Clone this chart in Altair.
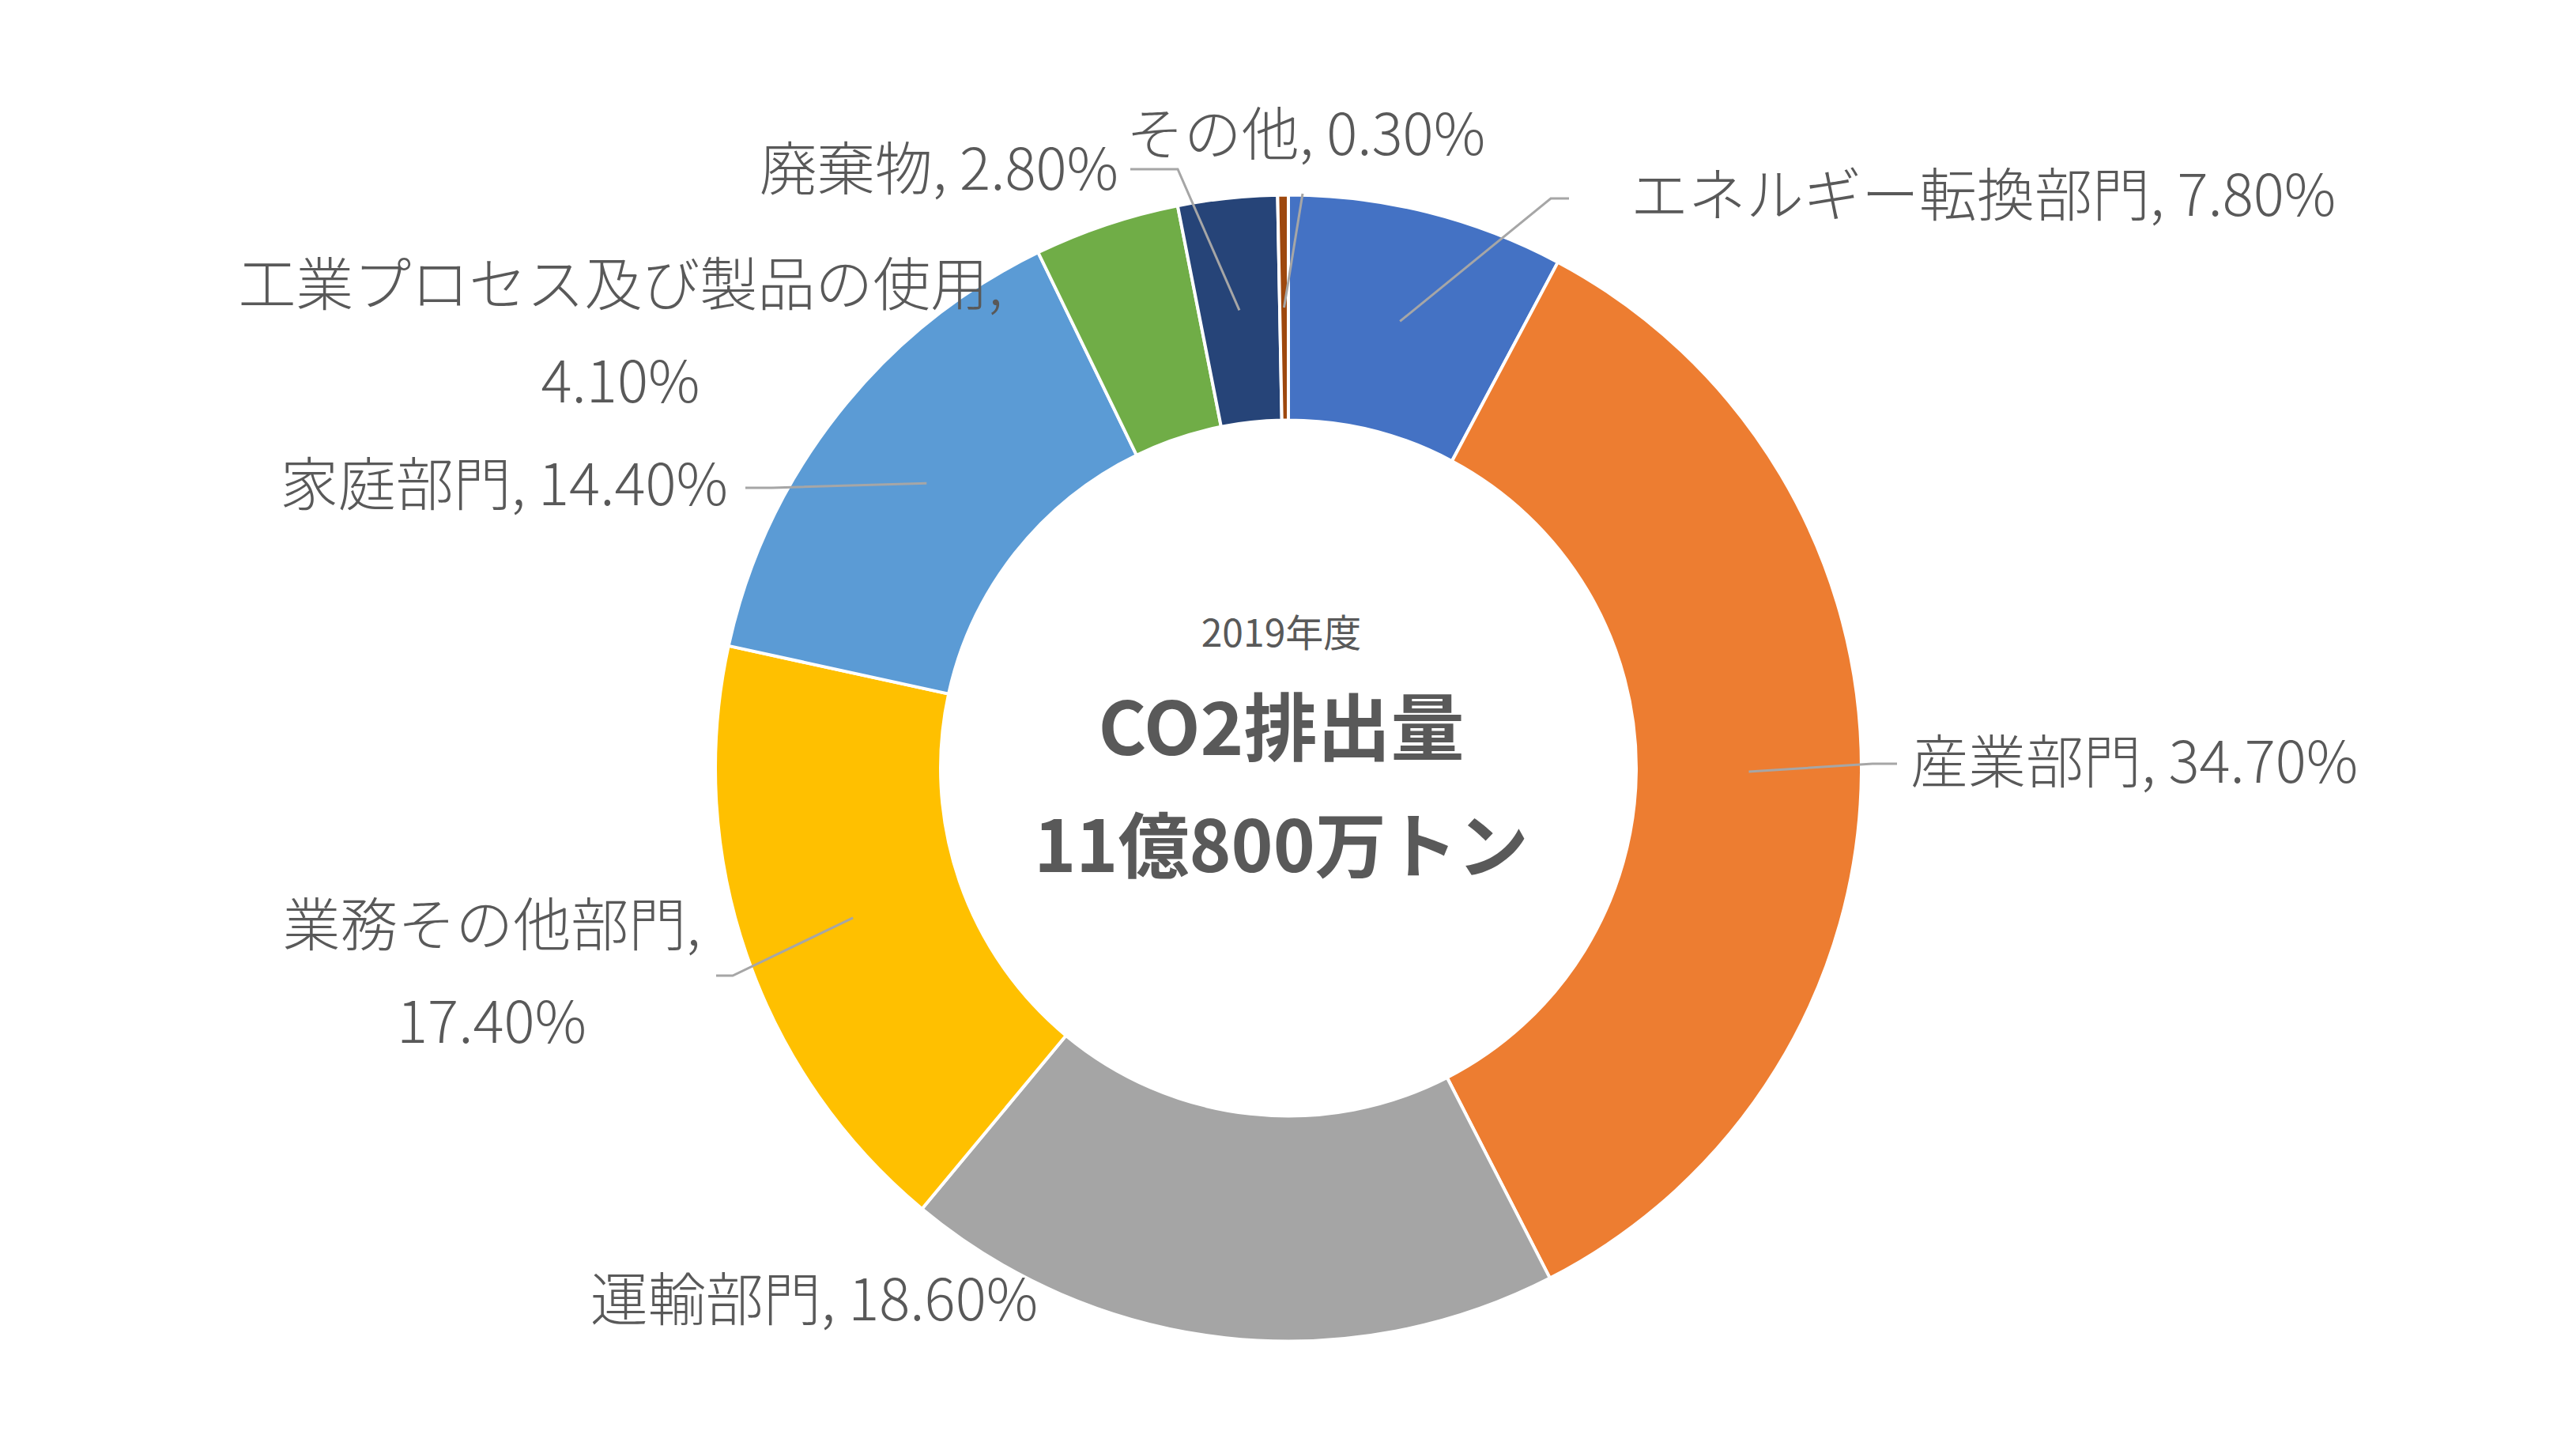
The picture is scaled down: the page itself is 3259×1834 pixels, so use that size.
import math
import altair as alt
import pandas as pd

# ---- data ----
categories = ["エネルギー転換部門", "産業部門", "運輸部門", "業務その他部門",
              "家庭部門", "工業プロセス及び製品の使用", "廃棄物", "その他"]
shares = [7.8, 34.7, 18.6, 17.4, 14.4, 4.1, 2.8, 0.3]
colors = ["#4472C4", "#ED7D31", "#A5A5A5", "#FFC000",
          "#5B9BD5", "#70AD47", "#264478", "#9E480E"]
center_lines = ["2019年度", "CO2排出量", "11億800万トン"]

# ---- layout (view pixels) ----
W, H = 3243, 1818
CX, CY = 1622, 963.5
R_OUT, R_IN = 725, 440
R_MID = (R_OUT + R_IN) / 2
FONT = "Noto Sans CJK JP"
TXT = "#595959"

label_wrap = [False, False, False, True, False, True, False, False]
label_x = [2055, 2409, 1022, 614, 913, 777, 1407, 1644]
label_y = [243, 960, 1640, 1166, 609, 356, 210, 166]
label_align = ["left", "left", "center", "center", "right", "center", "right", "center"]

# leader lines: (elbow, end) per category
leader_pts = {
    "エネルギー転換部門": [(1954, 243), (1977, 243)],
    "産業部門": [(2361, 958), (2392, 958)],
    "業務その他部門": [(919, 1226), (898, 1226)],
    "家庭部門": [(969, 609), (935, 609)],
    "廃棄物": [(1482, 206), (1422, 206)],
    "その他": [(1640, 237), (1640, 237)],
}

center_y = [796, 919, 1068]
center_size = [48, 93, 90]
center_weight = ["normal", "bold", "bold"]

# ---- tables ----
df = pd.DataFrame({"cat": categories, "value": shares, "order": range(len(categories))})

labels = []
for c, v, wr, lx, ly, la in zip(categories, shares, label_wrap, label_x, label_y, label_align):
    sep = ",\n" if wr else ", "
    labels.append({"cat": c, "text": f"{c}{sep}{v:.2f}%", "x": lx, "y": ly, "align": la})
ldf = pd.DataFrame(labels)

total = sum(shares)
rows = []
cum = 0.0
for c, v in zip(categories, shares):
    a = (cum + v / 2) / total * 2 * math.pi
    cum += v
    if c in leader_pts:
        sx = CX + R_MID * math.sin(a)
        sy = CY - R_MID * math.cos(a)
        pts = [(sx, sy)] + leader_pts[c]
        for i, (px, py) in enumerate(pts):
            rows.append({"cat": c, "pt": i, "x": px, "y": py})
lead = pd.DataFrame(rows)

cdf = pd.DataFrame({"text": center_lines, "y": center_y, "i": range(3)})

xs = alt.X("x:Q", scale=alt.Scale(domain=[0, W]), axis=None)
ys = alt.Y("y:Q", scale=alt.Scale(domain=[0, H], reverse=True), axis=None)

arcs = alt.Chart(df).mark_arc(innerRadius=R_IN, outerRadius=R_OUT, stroke="white",
                              strokeWidth=4).encode(
    theta=alt.Theta("value:Q", stack=True),
    color=alt.Color("cat:N", scale=alt.Scale(domain=categories, range=colors),
                    legend=None, sort=None),
    order=alt.Order("order:Q"),
    x=alt.value(CX), y=alt.value(CY),
)

leaders = alt.Chart(lead).mark_line(color="#A6A6A6", strokeWidth=3).encode(
    x=xs, y=ys, detail="cat:N", order="pt:Q")

text_layers = []
for al in ["left", "center", "right"]:
    text_layers.append(
        alt.Chart(ldf).transform_filter(alt.datum.align == al).mark_text(
            align=al, baseline="middle", font=FONT, fontSize=73, color=TXT,
            lineBreak="\n", lineHeight=123, fontWeight=300,
        ).encode(x=xs, y=ys, text="text:N")
    )

center_layers = []
for i in range(3):
    center_layers.append(
        alt.Chart(cdf).transform_filter(alt.datum.i == i).mark_text(
            align="center", baseline="middle", font=FONT, fontSize=center_size[i],
            fontWeight=center_weight[i], color=TXT,
        ).encode(x=alt.value(1613), y=ys, text="text:N")
    )

chart = alt.layer(arcs, leaders, *text_layers, *center_layers).properties(
    width=W, height=H, padding=0, autosize=alt.AutoSizeParams(type="none"),
    background="white",
).configure_view(stroke=None)

chart.save("out.html", embed_options={"renderer": "svg", "actions": False})
